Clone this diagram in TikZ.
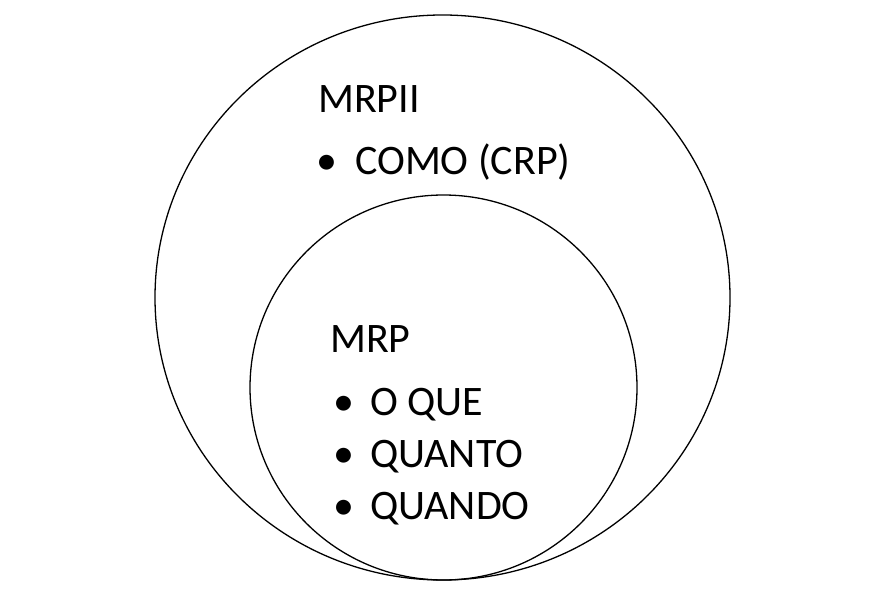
\documentclass[tikz,border=0pt]{standalone}
\usepackage{fontspec}
\setmainfont{Carlito}
\begin{document}
\begin{tikzpicture}[x=1pt,y=1pt,
  lbl/.style={anchor=base west,inner sep=0pt,font=\fontsize{42}{50}\selectfont},
  ring/.style={draw=black,line width=1.3pt}]
\useasboundingbox (0,0) rectangle (885,590);
\draw[ring] (442.5,292.5) ellipse [x radius=287.5,y radius=282.5];
\draw[ring] (443.5,202.5) ellipse [x radius=193.5,y radius=192.5];
\node[lbl] (t1) at (318,477) {MRPII};
\node[lbl] (b1) at (316,415) {•};
\node[lbl] (t2) at (355,415) {COMO (CRP)};
\node[lbl] (t3) at (330,238) {MRP};
\node[lbl] (b2) at (333,175) {•};
\node[lbl] (t4) at (370,175) {O QUE};
\node[lbl] (b3) at (333,123) {•};
\node[lbl] (t5) at (370,123) {QUANTO};
\node[lbl] (b4) at (333,71) {•};
\node[lbl] (t6) at (370,71) {QUANDO};
\end{tikzpicture}
\end{document}
